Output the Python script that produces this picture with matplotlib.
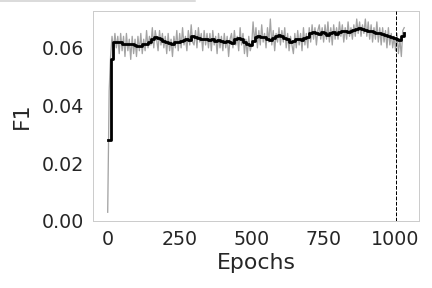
import matplotlib
matplotlib.use("Agg")
import matplotlib.pyplot as plt
from matplotlib.lines import Line2D

# Raw F1 per epoch (sampled every 5 epochs, 0..1030)
raw_epochs = list(range(0, 1031, 5))
raw_f1 = [
    0.003, 0.045, 0.057, 0.064, 0.059, 0.065, 0.060, 0.064, 0.058, 0.065,
    0.059, 0.064, 0.057, 0.065, 0.059, 0.063, 0.056, 0.064, 0.058, 0.063,
    0.057, 0.064, 0.059, 0.065, 0.058, 0.063, 0.059, 0.066, 0.060, 0.064,
    0.061, 0.067, 0.060, 0.066, 0.063, 0.059, 0.066, 0.061, 0.065, 0.060,
    0.064, 0.058, 0.065, 0.059, 0.063, 0.057, 0.064, 0.060, 0.066, 0.059,
    0.065, 0.060, 0.067, 0.061, 0.064, 0.059, 0.066, 0.061, 0.068, 0.062,
    0.061, 0.066, 0.060, 0.067, 0.062, 0.065, 0.059, 0.066, 0.061, 0.065,
    0.060, 0.065, 0.059, 0.066, 0.061, 0.064, 0.058, 0.065, 0.060, 0.064,
    0.059, 0.065, 0.060, 0.064, 0.057, 0.063, 0.065, 0.060, 0.066, 0.061,
    0.064, 0.059, 0.067, 0.061, 0.065, 0.058, 0.063, 0.057, 0.064, 0.059,
    0.061, 0.069, 0.062, 0.067, 0.060, 0.066, 0.061, 0.068, 0.062, 0.065,
    0.060, 0.067, 0.062, 0.070, 0.061, 0.066, 0.059, 0.065, 0.062, 0.067,
    0.061, 0.066, 0.062, 0.067, 0.060, 0.065, 0.059, 0.064, 0.061, 0.058,
    0.065, 0.060, 0.066, 0.061, 0.065, 0.059, 0.067, 0.061, 0.065, 0.060,
    0.067, 0.062, 0.068, 0.063, 0.067, 0.061, 0.066, 0.068, 0.063, 0.067,
    0.062, 0.068, 0.063, 0.069, 0.062, 0.067, 0.061, 0.068, 0.063, 0.067,
    0.063, 0.069, 0.064, 0.068, 0.062, 0.067, 0.063, 0.069, 0.064, 0.067,
    0.063, 0.068, 0.064, 0.070, 0.065, 0.069, 0.064, 0.068, 0.065, 0.070,
    0.064, 0.069, 0.063, 0.068, 0.062, 0.067, 0.063, 0.069, 0.062, 0.067,
    0.061, 0.067, 0.062, 0.066, 0.060, 0.067, 0.061, 0.065, 0.060, 0.064,
    0.059, 0.065, 0.058, 0.063, 0.057, 0.066, 0.067,
]

# Smoothed F1 (step every 10 epochs, 0..1030)
smooth_epochs = list(range(0, 1031, 10))
smooth_f1 = [
    0.0280, 0.0560, 0.0620, 0.0622, 0.0622, 0.0615, 0.0615, 0.0612, 0.0615, 0.0610,
    0.0605, 0.0608, 0.0612, 0.0615, 0.0622, 0.0630, 0.0638, 0.0635, 0.0630, 0.0625,
    0.0622, 0.0618, 0.0615, 0.0620, 0.0622, 0.0625, 0.0628, 0.0630, 0.0628, 0.0640,
    0.0638, 0.0635, 0.0632, 0.0630, 0.0632, 0.0628, 0.0630, 0.0625, 0.0628, 0.0625,
    0.0622, 0.0625, 0.0622, 0.0618, 0.0630, 0.0634, 0.0632, 0.0620, 0.0612, 0.0610,
    0.0625, 0.0638, 0.0640, 0.0638, 0.0636, 0.0632, 0.0628, 0.0634, 0.0640, 0.0645,
    0.0640, 0.0635, 0.0630, 0.0622, 0.0625, 0.0630, 0.0632, 0.0628, 0.0635, 0.0638,
    0.0650, 0.0655, 0.0652, 0.0648, 0.0655, 0.0650, 0.0645, 0.0650, 0.0655, 0.0648,
    0.0655, 0.0660, 0.0658, 0.0655, 0.0660, 0.0662, 0.0665, 0.0668, 0.0665, 0.0662,
    0.0660, 0.0658, 0.0655, 0.0652, 0.0650, 0.0648, 0.0645, 0.0640, 0.0638, 0.0635,
    0.0630, 0.0628, 0.0640, 0.0650,
]

best_epoch = 1000
y_ticks = [0.00, 0.02, 0.04, 0.06]
x_ticks = [0, 250, 500, 750, 1000]

fig = plt.figure(figsize=(6, 4), dpi=72)
ax = fig.add_axes([0.215, 0.233, 0.755, 0.729])

ax.plot(raw_epochs, raw_f1, color="#a3a3a3", linewidth=1.3, zorder=2)
ax.plot(smooth_epochs, smooth_f1, color="black", linewidth=2.8,
        drawstyle="steps-post", zorder=3)
ax.axvline(best_epoch, color="black", linestyle="--", linewidth=1.0, zorder=4)

ax.set_ylim(0, 0.0728)
ax.set_xlim(-51.5, 1081.5)
ax.set_yticks(y_ticks)
ax.set_yticklabels([f"{v:.2f}" for v in y_ticks])
ax.set_xticks(x_ticks)
ax.tick_params(axis="both", length=0, labelsize=19, colors="#262626", pad=9)
ax.set_xlabel("Epochs", fontsize=22, color="#262626", labelpad=4)
ax.set_ylabel("F1", fontsize=22, color="#262626", labelpad=10)

for s in ax.spines.values():
    s.set_color("#cccccc")
    s.set_linewidth(1.0)

# faint line at top-left of the figure
fig.add_artist(Line2D([0, 0.451], [0.995, 0.995], transform=fig.transFigure,
                      color="#d0d0d0", linewidth=1.5))

fig.savefig("out.png", dpi=72)
